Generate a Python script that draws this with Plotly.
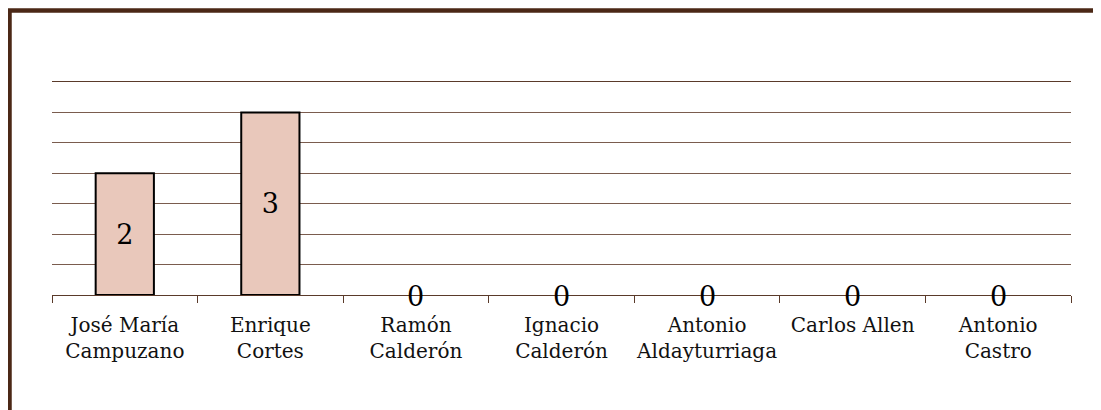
import plotly.graph_objects as go

categories = ["José María<br>Campuzano", "Enrique<br>Cortes", "Ramón<br>Calderón",
              "Ignacio<br>Calderón", "Antonio<br>Aldayturriaga", "Carlos Allen",
              "Antonio<br>Castro"]
values = [2, 3, 0, 0, 0, 0, 0]

FONT = "DejaVu Serif"

nonzero_text = [str(v) if v != 0 else "" for v in values]
outline_widths = [2 if v != 0 else 0 for v in values]

fig = go.Figure()
fig.add_trace(go.Bar(
    x=categories, y=values,
    width=0.4,
    marker=dict(color="#e9c8bb", line=dict(color="#000000", width=outline_widths)),
    text=nonzero_text, textposition="inside", insidetextanchor="middle",
    textangle=0,
    textfont=dict(family=FONT, size=27, color="#000000"),
    showlegend=False, hoverinfo="skip",
))

# labels for zero-height bars, sitting across the baseline
for c, v in zip(categories, values):
    if v == 0:
        fig.add_annotation(x=c, y=v, xref="x", yref="y", text=str(v),
                           showarrow=False, yanchor="middle", yshift=-1,
                           font=dict(family=FONT, size=27, color="#000000"))

# page has an 8px body margin; figure occupies 8..1101 x 8..410 of the window
OFF = 8
W, H = 1101 - OFF, 410 - OFF
L, R, T, B = 52 - OFF, 30, 82 - OFF, 115
pw, ph = W - L - R, H - T - B

def px_x(p):
    return (p - OFF - L) / pw

def px_y(p):
    return (H - B - (p - OFF)) / ph

fig.add_shape(type="rect", xref="paper", yref="paper",
              x0=px_x(9.5), x1=px_x(1120), y0=px_y(10.5), y1=px_y(440),
              line=dict(color="#4b2816", width=4.5), fillcolor="rgba(0,0,0,0)",
              layer="below")

fig.update_layout(
    width=W, height=H,
    margin=dict(l=L, r=R, t=T, b=B, pad=0, autoexpand=False),
    paper_bgcolor="white", plot_bgcolor="white",
    font=dict(family=FONT, size=20, color="#000000"),
    xaxis=dict(
        showgrid=False, showline=True, linecolor="#5a3a2a", linewidth=1,
        mirror=True,
        ticks="outside", ticklen=7, tickcolor="#5a3a2a", tickson="boundaries",
        tickfont=dict(family=FONT, size=20, color="#111111"),
        ticklabelstandoff=12, tickangle=0, automargin=False,
    ),
    yaxis=dict(
        range=[0, 3.5], tickvals=[0.5, 1, 1.5, 2, 2.5, 3],
        showgrid=True, gridcolor="#7a5c4e", gridwidth=1,
        showticklabels=False, zeroline=False, showline=False, ticks="",
        automargin=False,
    ),
)

fig.write_html("out.html")
